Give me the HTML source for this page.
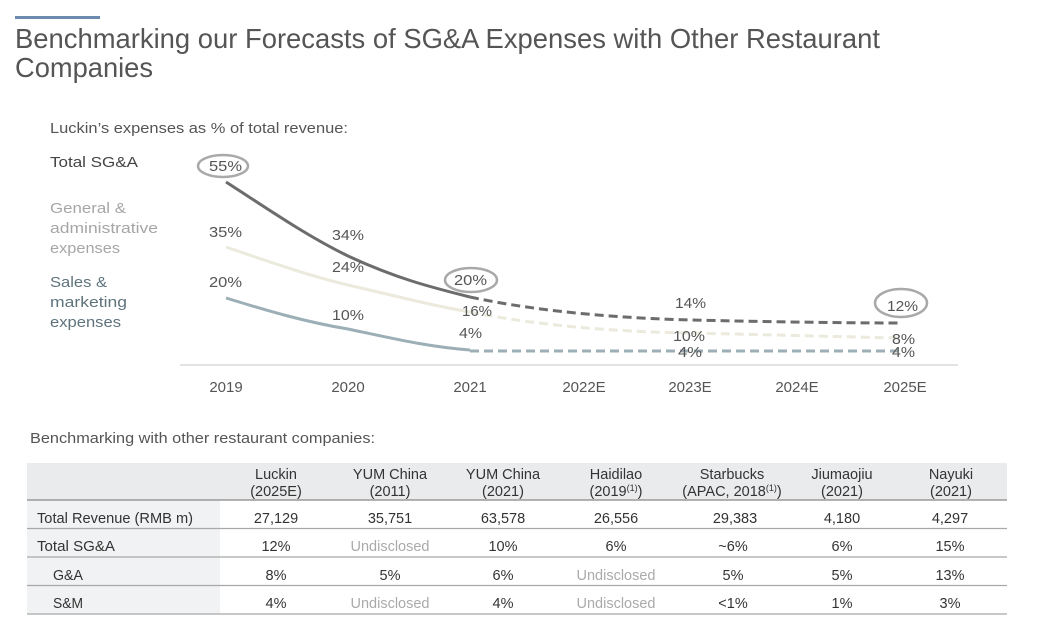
<!DOCTYPE html>
<html><head><meta charset="utf-8"><style>
html,body{margin:0;padding:0;background:#fff;}
svg{display:block;}
text{font-family:"Liberation Sans",sans-serif;}
</style></head><body>
<svg width="1048" height="637" viewBox="0 0 1048 637" xmlns="http://www.w3.org/2000/svg">
<rect x="0" y="0" width="1048" height="637" fill="#fff"/>
<!-- title -->
<rect x="15" y="16" width="85" height="3" fill="#6b8bb0"/>
<text x="15" y="48" font-size="28" fill="#555" textLength="865" lengthAdjust="spacingAndGlyphs">Benchmarking our Forecasts of SG&amp;A Expenses with Other Restaurant</text>
<text x="15" y="77" font-size="28" fill="#555" textLength="138" lengthAdjust="spacingAndGlyphs">Companies</text>

<text x="50" y="133" font-size="15" fill="#555" textLength="298" lengthAdjust="spacingAndGlyphs">Luckin’s expenses as % of total revenue:</text>

<!-- legend labels -->
<g font-size="15">
<text x="50" y="167" fill="#444" textLength="88" lengthAdjust="spacingAndGlyphs">Total SG&amp;A</text>
<text x="50" y="213" fill="#a6a6a6" textLength="76" lengthAdjust="spacingAndGlyphs">General &amp;</text>
<text x="50" y="233" fill="#a6a6a6" textLength="108" lengthAdjust="spacingAndGlyphs">administrative</text>
<text x="50" y="253" fill="#a6a6a6" textLength="70" lengthAdjust="spacingAndGlyphs">expenses</text>
<text x="50" y="287" fill="#5f737d" textLength="57" lengthAdjust="spacingAndGlyphs">Sales &amp;</text>
<text x="50" y="307" fill="#5f737d" textLength="77" lengthAdjust="spacingAndGlyphs">marketing</text>
<text x="50" y="327" fill="#5f737d" textLength="71" lengthAdjust="spacingAndGlyphs">expenses</text>
</g>

<!-- axis -->
<line x1="180" y1="365" x2="958" y2="365" stroke="#e3e3e3" stroke-width="2"/>
<g font-size="15" fill="#555" text-anchor="middle">
<text x="226" y="392">2019</text>
<text x="348" y="392">2020</text>
<text x="470" y="392">2021</text>
<text x="584" y="392">2022E</text>
<text x="690" y="392">2023E</text>
<text x="797" y="392">2024E</text>
<text x="905" y="392">2025E</text>
</g>

<!-- lines -->
<g fill="none" stroke-width="3" stroke-linecap="butt">
<path d="M226,247 C270,262 310,276 348,285 C400,297 430,305 470,312" stroke="#ebeadd"/>
<path d="M470,312 C540,326 620,332 690,333 C780,335 850,337 898,338" stroke="#ebeadd" stroke-dasharray="9 5"/>
<path d="M226,298 C265,310 305,322 348,329 C400,340 430,347 470,350" stroke="#9cafb6"/>
<path d="M470,351 L898,351" stroke="#9cafb6" stroke-dasharray="9 5"/>
<path d="M226,182 C265,207 305,235 348,256 C395,278 430,287 470,297" stroke="#6c6c6c"/>
<path d="M470,297 C540,312 620,318 690,320 C780,322 850,323 898,323" stroke="#6c6c6c" stroke-dasharray="9 5"/>
</g>

<!-- ellipses -->
<g fill="none" stroke="#a9a9a9" stroke-width="2.5">
<ellipse cx="223" cy="166" rx="25" ry="11"/>
<ellipse cx="471" cy="280" rx="26" ry="12"/>
<ellipse cx="901" cy="303" rx="26" ry="14"/>
</g>

<!-- data labels -->
<g font-size="15" fill="#555">
<text x="209" y="171" textLength="33" lengthAdjust="spacingAndGlyphs">55%</text>
<text x="209" y="237" textLength="33" lengthAdjust="spacingAndGlyphs">35%</text>
<text x="209" y="287" textLength="33" lengthAdjust="spacingAndGlyphs">20%</text>
<text x="332" y="240" textLength="32" lengthAdjust="spacingAndGlyphs">34%</text>
<text x="332" y="272" textLength="32" lengthAdjust="spacingAndGlyphs">24%</text>
<text x="332" y="320" textLength="32" lengthAdjust="spacingAndGlyphs">10%</text>
<text x="454" y="285" textLength="33" lengthAdjust="spacingAndGlyphs">20%</text>
<text x="462" y="316" textLength="30" lengthAdjust="spacingAndGlyphs">16%</text>
<text x="459" y="338" textLength="23" lengthAdjust="spacingAndGlyphs">4%</text>
<text x="675" y="308" textLength="31" lengthAdjust="spacingAndGlyphs">14%</text>
<text x="673" y="341" textLength="32" lengthAdjust="spacingAndGlyphs">10%</text>
<text x="678" y="357" textLength="24" lengthAdjust="spacingAndGlyphs">4%</text>
<text x="887" y="311" textLength="31" lengthAdjust="spacingAndGlyphs">12%</text>
<text x="892" y="344" textLength="23" lengthAdjust="spacingAndGlyphs">8%</text>
<text x="892" y="357" textLength="23" lengthAdjust="spacingAndGlyphs">4%</text>
</g>

<!-- table -->
<text x="30" y="443" font-size="15" fill="#555" textLength="345" lengthAdjust="spacingAndGlyphs">Benchmarking with other restaurant companies:</text>
<rect x="27" y="463" width="980" height="37" fill="#e9ebec"/>
<rect x="27" y="500" width="193" height="114" fill="#f1f2f3"/>
<line x1="27" y1="500" x2="1007" y2="500" stroke="#9a9a9a" stroke-width="1.5"/>
<line x1="27" y1="528.5" x2="1007" y2="528.5" stroke="#a8a8a8" stroke-width="1.2"/>
<line x1="27" y1="557" x2="1007" y2="557" stroke="#a8a8a8" stroke-width="1.2"/>
<line x1="27" y1="585.5" x2="1007" y2="585.5" stroke="#a8a8a8" stroke-width="1.2"/>
<line x1="27" y1="614" x2="1007" y2="614" stroke="#a8a8a8" stroke-width="1.2"/>

<g font-size="14.5" fill="#333" text-anchor="middle">
<text x="276" y="479">Luckin</text><text x="276" y="496">(2025E)</text>
<text x="390" y="479">YUM China</text><text x="390" y="496">(2011)</text>
<text x="503" y="479">YUM China</text><text x="503" y="496">(2021)</text>
<text x="616" y="479">Haidilao</text><text x="616" y="496">(2019<tspan font-size="9" dy="-5">(1)</tspan><tspan dy="5">)</tspan></text>
<text x="732" y="479">Starbucks</text><text x="732" y="496">(APAC, 2018<tspan font-size="9" dy="-5">(1)</tspan><tspan dy="5">)</tspan></text>
<text x="842" y="479">Jiumaojiu</text><text x="842" y="496">(2021)</text>
<text x="951" y="479">Nayuki</text><text x="951" y="496">(2021)</text>
</g>

<g font-size="14.5" fill="#333">
<text x="37" y="523" textLength="156" lengthAdjust="spacingAndGlyphs">Total Revenue (RMB m)</text>
<text x="37" y="551" textLength="78" lengthAdjust="spacingAndGlyphs">Total SG&amp;A</text>
<text x="53" y="580" textLength="30" lengthAdjust="spacingAndGlyphs">G&amp;A</text>
<text x="53" y="608" textLength="30" lengthAdjust="spacingAndGlyphs">S&amp;M</text>
</g>

<g font-size="14.5" fill="#333" text-anchor="middle">
<text x="276" y="523">27,129</text>
<text x="390" y="523">35,751</text>
<text x="503" y="523">63,578</text>
<text x="616" y="523">26,556</text>
<text x="735" y="523">29,383</text>
<text x="842" y="523">4,180</text>
<text x="950" y="523">4,297</text>

<text x="276" y="551">12%</text>
<text x="390" y="551" fill="#aaa">Undisclosed</text>
<text x="503" y="551">10%</text>
<text x="616" y="551">6%</text>
<text x="733" y="551">~6%</text>
<text x="842" y="551">6%</text>
<text x="950" y="551">15%</text>

<text x="276" y="580">8%</text>
<text x="390" y="580">5%</text>
<text x="503" y="580">6%</text>
<text x="616" y="580" fill="#aaa">Undisclosed</text>
<text x="733" y="580">5%</text>
<text x="842" y="580">5%</text>
<text x="950" y="580">13%</text>

<text x="276" y="608">4%</text>
<text x="390" y="608" fill="#aaa">Undisclosed</text>
<text x="503" y="608">4%</text>
<text x="616" y="608" fill="#aaa">Undisclosed</text>
<text x="733" y="608">&lt;1%</text>
<text x="842" y="608">1%</text>
<text x="950" y="608">3%</text>
</g>
</svg>
</body></html>
